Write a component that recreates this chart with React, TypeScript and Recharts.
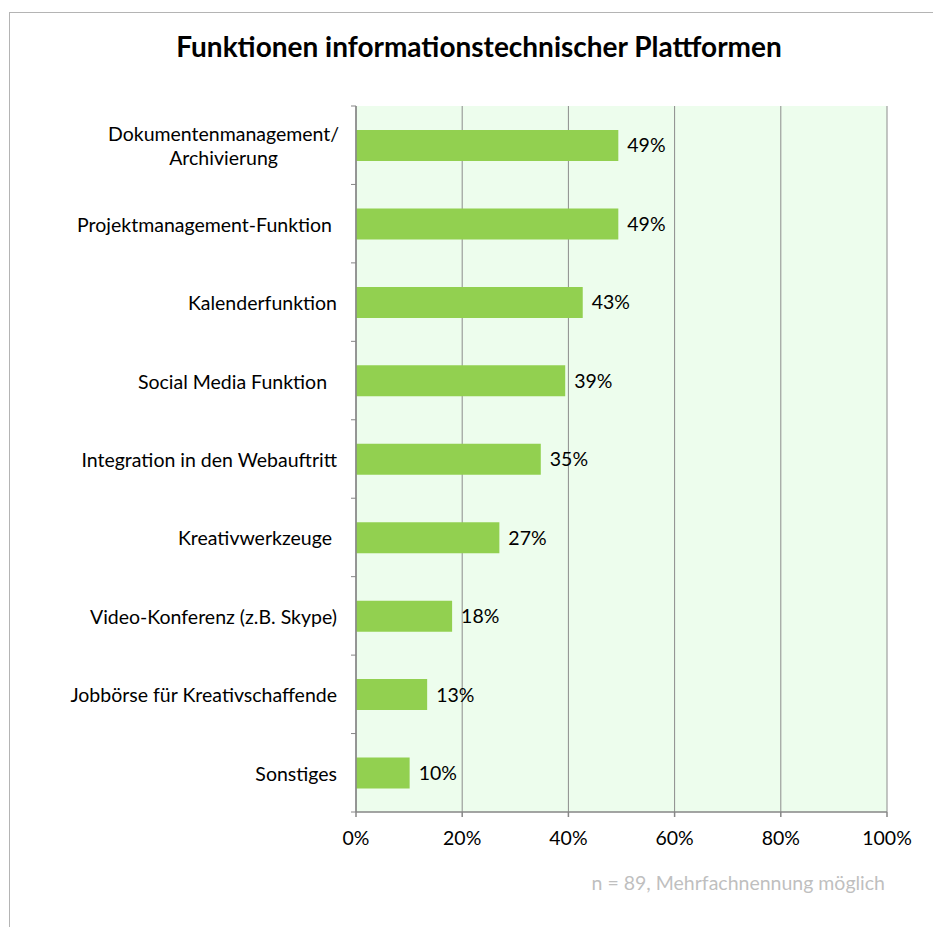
import React from "react";
import { BarChart, Bar, XAxis, YAxis, CartesianGrid, LabelList } from "recharts";

const categories = [
  "Dokumentenmanagement/\nArchivierung",
  "Projektmanagement-Funktion ",
  "Kalenderfunktion",
  "Social Media Funktion  ",
  "Integration in den Webauftritt",
  "Kreativwerkzeuge ",
  "Video-Konferenz (z.B. Skype)",
  "Jobbörse für Kreativschaffende",
  "Sonstiges",
];
const shares = [0.494, 0.494, 0.427, 0.394, 0.348, 0.27, 0.181, 0.134, 0.101];
const xTicks = [0, 0.2, 0.4, 0.6, 0.8, 1];
const title = "Funktionen informationstechnischer Plattformen";
const footnote = "n = 89, Mehrfachnennung möglich";

const W = 933;
const H = 927;
const FONT = "Lato, 'Open Sans', sans-serif";
const FS = 19.5;
const margin = { top: 106, right: 46, left: 0, bottom: 85 };
const axisWidth = 356;
const xAxisHeight = 30;
const bandSize = (H - margin.top - margin.bottom - xAxisHeight) / categories.length;

const data = categories.map((name, i) => ({ name, value: shares[i] }));

const pct = (v: number) => `${Math.round(v * 100)}%`;

// category label, with tick marks between the categories (like the original)
const CategoryTick = (props: any) => {
  const { y, payload, index } = props;
  const lines = String(payload.value).split("\n");
  const longest = Math.max(...lines.map((l) => l.length));
  const lineH = 24;
  const startY = y - ((lines.length - 1) * lineH) / 2;
  const multi = lines.length > 1;
  const right = axisWidth - 19;
  const tx = multi ? right - (longest * 10.8) / 2 : right;
  return (
    <g>
      <line x1={axisWidth - 5} x2={axisWidth} y1={y - bandSize / 2} y2={y - bandSize / 2} stroke="#868686" />
      {index === categories.length - 1 && (
        <line x1={axisWidth - 5} x2={axisWidth} y1={y + bandSize / 2} y2={y + bandSize / 2} stroke="#868686" />
      )}
      <text
        x={tx}
        y={startY}
        textAnchor={multi ? "middle" : "end"}
        dominantBaseline="central"
        fontSize={FS}
        fontFamily={FONT}
        fill="#000"
        style={{ whiteSpace: "pre" }}
      >
        {lines.map((l, i) => (
          <tspan key={i} x={tx} dy={i === 0 ? 0 : lineH}>
            {l}
          </tspan>
        ))}
      </text>
    </g>
  );
};

export default function App() {
  return (
    <div style={{ position: "absolute", left: 0, top: 0, width: W, height: H, background: "#fff" }}>
      <div
        style={{
          position: "absolute",
          left: 9,
          top: 12,
          right: 0,
          bottom: 0,
          borderLeft: "1px solid #b4b4b4",
          borderTop: "1px solid #b4b4b4",
        }}
      />
      <div
        style={{
          position: "absolute",
          left: 0,
          width: 958,
          top: 29,
          textAlign: "center",
          fontFamily: FONT,
          fontWeight: 700,
          fontSize: 28,
          color: "#000",
        }}
      >
        {title}
      </div>
      <div style={{ position: "absolute", left: 0, top: 0 }}>
        <BarChart width={W} height={H} data={data} layout="vertical" margin={margin}>
          <CartesianGrid horizontal={false} fill="#edfded" stroke="#8c8c8c" />
          <XAxis
            type="number"
            domain={[0, 1]}
            ticks={xTicks}
            tickFormatter={pct}
            height={xAxisHeight}
            stroke="#868686"
            strokeWidth={1.5}
            tickSize={5}
            tickMargin={14}
            tick={{ fontSize: FS, fontFamily: FONT, fill: "#000" }}
          />
          <YAxis
            type="category"
            dataKey="name"
            width={axisWidth}
            stroke="#868686"
            strokeWidth={1.5}
            tickLine={false}
            tick={<CategoryTick />}
            interval={0}
          />
          <Bar dataKey="value" fill="#92d050" barSize={31} isAnimationActive={false}>
            <LabelList
              dataKey="value"
              position="right"
              offset={9}
              formatter={(v: any) => pct(Number(v))}
              fontSize={FS}
              fontFamily={FONT}
              fill="#000"
            />
          </Bar>
        </BarChart>
      </div>
      <div
        style={{
          position: "absolute",
          right: 933 - 885,
          top: 871,
          fontFamily: FONT,
          fontSize: FS,
          color: "#bfbfbf",
        }}
      >
        {footnote}
      </div>
    </div>
  );
}
